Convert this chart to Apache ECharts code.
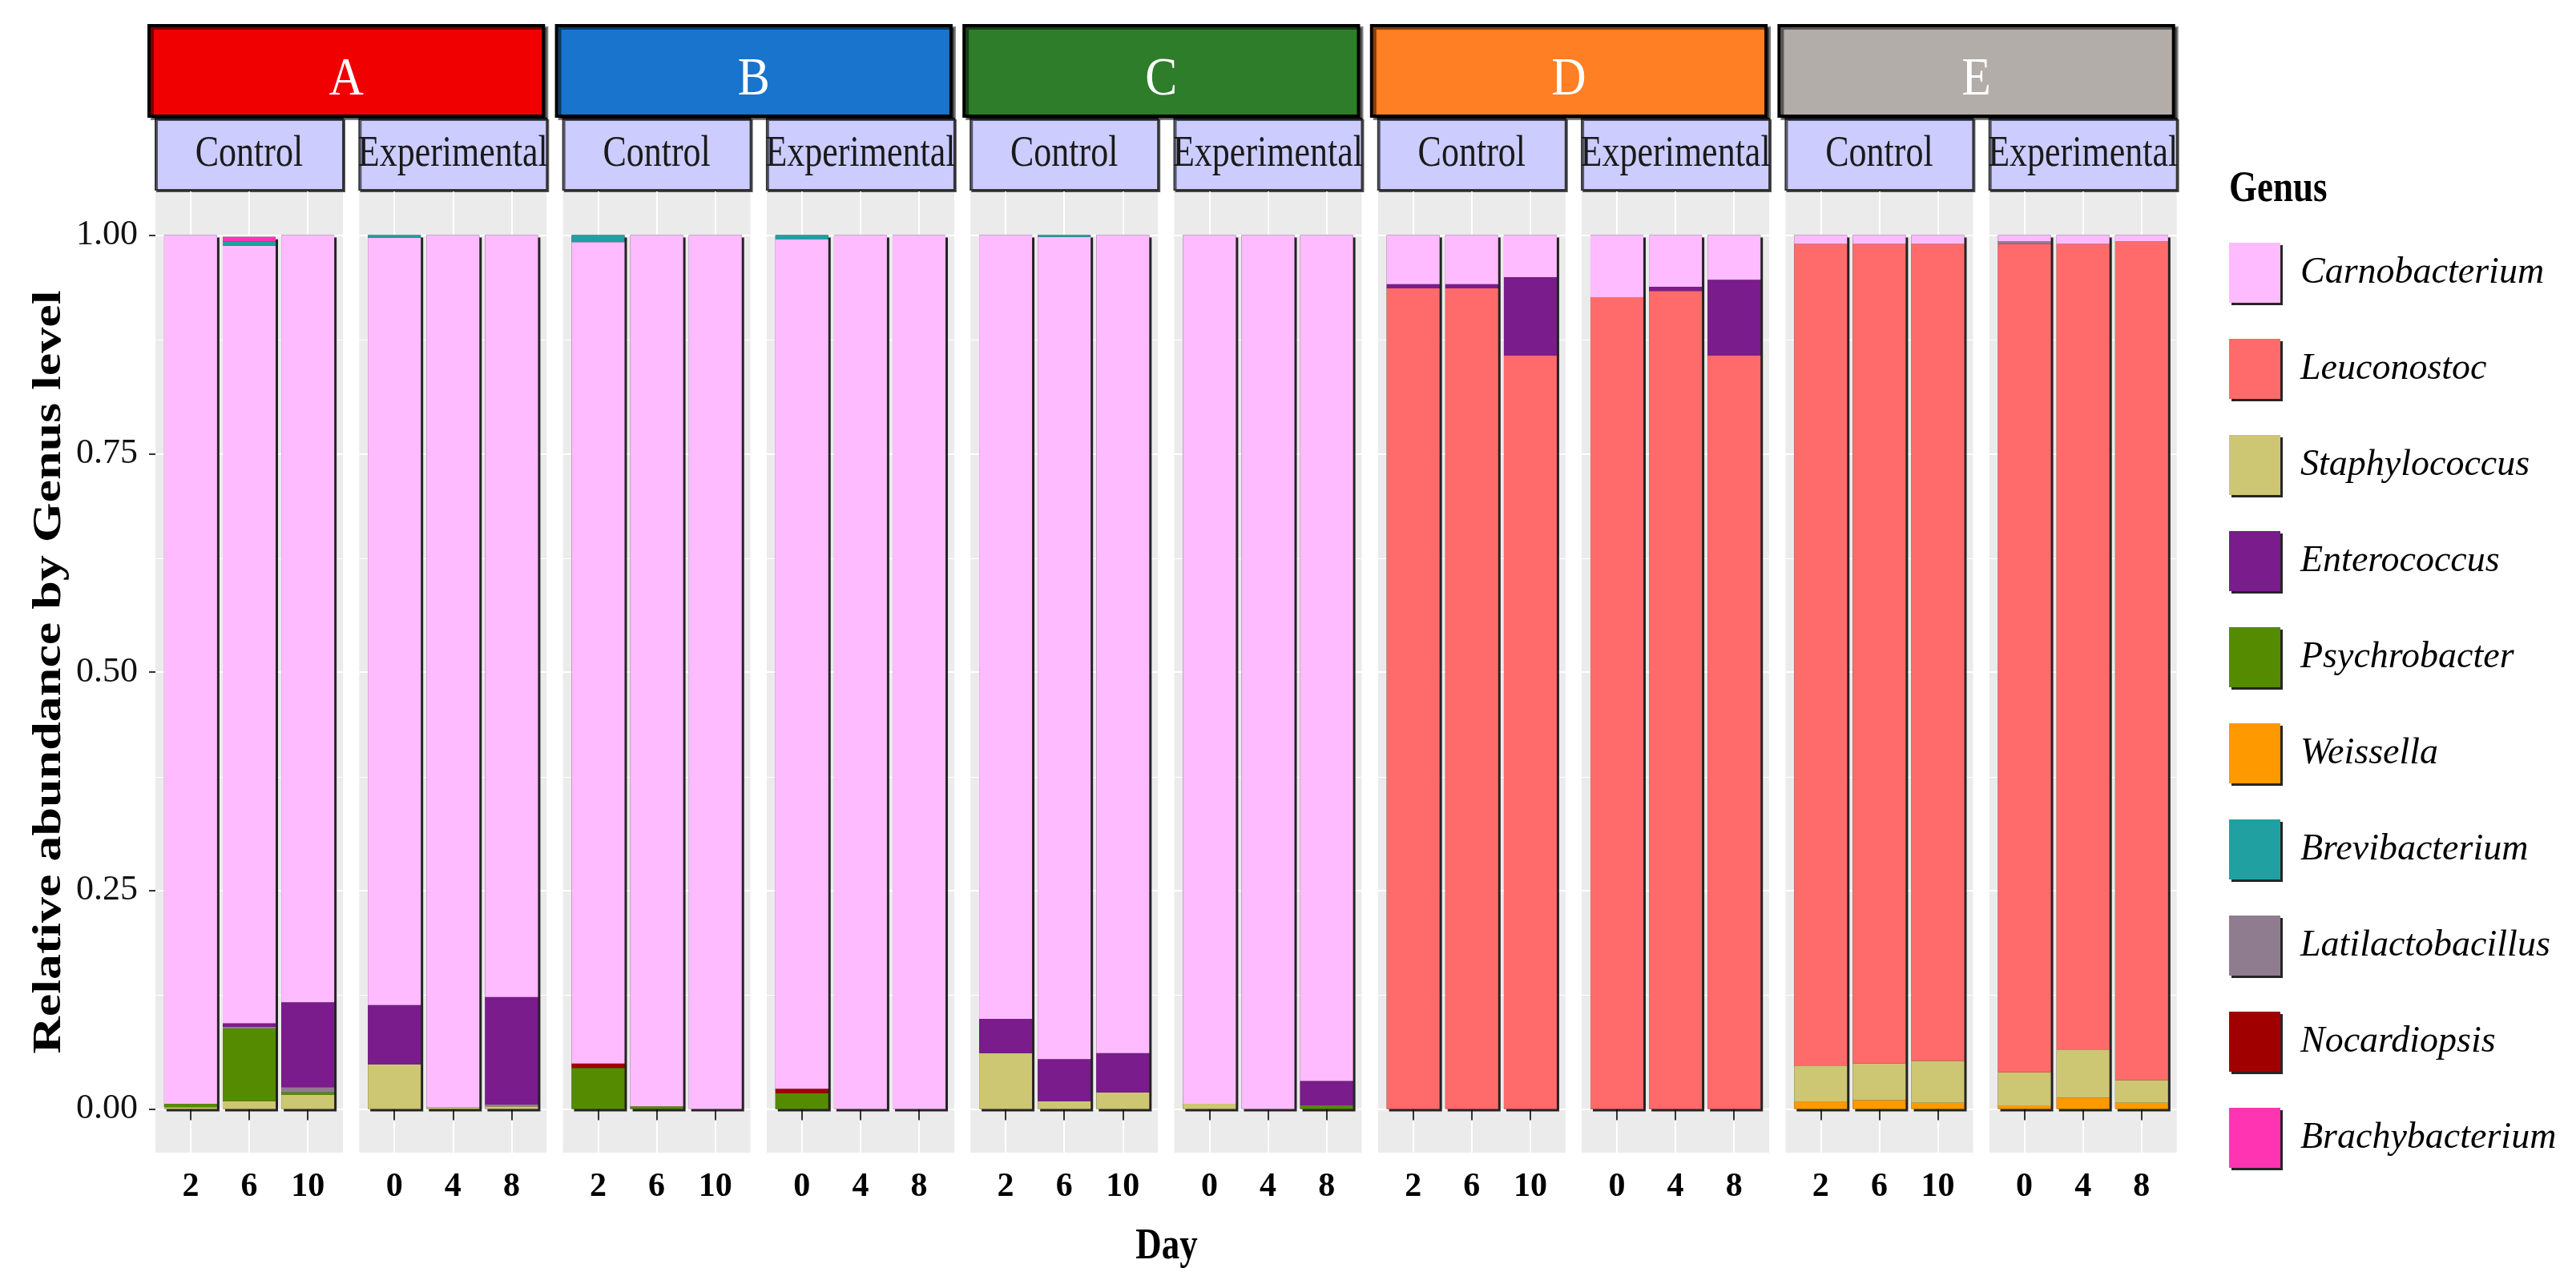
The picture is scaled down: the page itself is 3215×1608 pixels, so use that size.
<!DOCTYPE html>
<html>
<head>
<meta charset="utf-8">
<title>Relative abundance by Genus level</title>
<script src="https://cdn.jsdelivr.net/npm/echarts@6/dist/echarts.min.js"></script>
<style>
  html, body { margin: 0; padding: 0; background: #ffffff; }
  #chart { width: 3215px; height: 1608px; }
</style>
</head>
<body>
<div id="chart"></div>
<script>
// facets: each group has a Control and an Experimental panel
const groups = ['A', 'B', 'C', 'D', 'E']
const groupColors = ['#F00000', '#1874CD', '#2E7D2A', '#FF7F24', '#B3ADAA']
const conditions = ['Control', 'Experimental']
const controlDays = ['2', '6', '10']
const experimentalDays = ['0', '4', '8']
const yTicks = [0, 0.25, 0.5, 0.75, 1]
const yMinorTicks = [0.125, 0.375, 0.625, 0.875]

// legend order
const genera = ['Carnobacterium', 'Leuconostoc', 'Staphylococcus', 'Enterococcus', 'Psychrobacter',
  'Weissella', 'Brevibacterium', 'Latilactobacillus', 'Nocardiopsis', 'Brachybacterium']
const genusColors = ['#FFBBFF', '#FF6A6A', '#CDC673', '#7A1C8B', '#548B00',
  '#FF9900', '#20A0A0', '#8F7C8F', '#A00000', '#FF34B3']

// relative abundance, 3 days per panel: A-Ctrl, A-Exp, B-Ctrl, B-Exp, ... E-Exp
const carnobacterium = [
  0.994, 0.890, 0.878,  0.878, 0.998, 0.872,
  0.940, 0.997, 1.000,  0.972, 1.000, 1.000,
  0.897, 0.941, 0.936,  0.994, 1.000, 0.968,
  0.056, 0.056, 0.048,  0.071, 0.059, 0.051,
  0.010, 0.010, 0.010,  0.007, 0.010, 0.007]
const leuconostoc = [
  0, 0, 0,  0, 0, 0,
  0, 0, 0,  0, 0, 0,
  0, 0, 0,  0, 0, 0,
  0.939, 0.939, 0.862,  0.929, 0.936, 0.862,
  0.941, 0.938, 0.935,  0.948, 0.922, 0.960]
const staphylococcus = [
  0.002, 0.009, 0.016,  0.051, 0.002, 0.003,
  0, 0, 0,  0, 0, 0,
  0.064, 0.009, 0.019,  0.006, 0, 0,
  0, 0, 0,  0, 0, 0,
  0.041, 0.042, 0.048,  0.038, 0.055, 0.026]
const enterococcus = [
  0, 0.004, 0.097,  0.068, 0, 0.123,
  0, 0, 0,  0, 0, 0,
  0.039, 0.048, 0.045,  0, 0, 0.028,
  0.005, 0.005, 0.090,  0, 0.005, 0.087,
  0, 0, 0,  0, 0, 0]
const psychrobacter = [
  0.004, 0.083, 0.003,  0, 0, 0,
  0.047, 0.003, 0,  0.018, 0, 0,
  0, 0, 0,  0, 0, 0.004,
  0, 0, 0,  0, 0, 0,
  0, 0, 0,  0, 0, 0]
const weissella = [
  0, 0, 0,  0, 0, 0,
  0, 0, 0,  0, 0, 0,
  0, 0, 0,  0, 0, 0,
  0, 0, 0,  0, 0, 0,
  0.008, 0.010, 0.007,  0.004, 0.013, 0.007]
const brevibacterium = [
  0, 0.005, 0,  0.003, 0, 0,
  0.008, 0, 0,  0.005, 0, 0,
  0, 0.002, 0,  0, 0, 0,
  0, 0, 0,  0, 0, 0,
  0, 0, 0,  0, 0, 0]
const latilactobacillus = [
  0, 0.002, 0.006,  0, 0, 0.002,
  0, 0, 0,  0, 0, 0,
  0, 0, 0,  0, 0, 0,
  0, 0, 0,  0, 0, 0,
  0, 0, 0,  0.003, 0, 0]
const nocardiopsis = [
  0, 0, 0,  0, 0, 0,
  0.005, 0, 0,  0.005, 0, 0,
  0, 0, 0,  0, 0, 0,
  0, 0, 0,  0, 0, 0,
  0, 0, 0,  0, 0, 0]
const brachybacterium = [
  0, 0.005, 0,  0, 0, 0,
  0, 0, 0,  0, 0, 0,
  0, 0, 0,  0, 0, 0,
  0, 0, 0,  0, 0, 0,
  0, 0, 0,  0, 0, 0]

const abundance = {
  Carnobacterium: carnobacterium, Leuconostoc: leuconostoc, Staphylococcus: staphylococcus,
  Enterococcus: enterococcus, Psychrobacter: psychrobacter, Weissella: weissella,
  Brevibacterium: brevibacterium, Latilactobacillus: latilactobacillus,
  Nocardiopsis: nocardiopsis, Brachybacterium: brachybacterium
}
// order of the segments inside a bar, bottom to top
const stackOrder = ['Weissella', 'Staphylococcus', 'Psychrobacter', 'Nocardiopsis', 'Leuconostoc',
  'Latilactobacillus', 'Enterococcus', 'Carnobacterium', 'Brevibacterium', 'Brachybacterium']

const FONT = "'Liberation Serif', 'Times New Roman', serif"
const PANEL_W = 234
const PANEL_STEP = 254.3
const GRID_TOP = 239
const GRID_H = 1200
const BAR_W = 66
const panelLeft = p => 194 + p * PANEL_STEP

const chart = echarts.init(document.getElementById('chart'))

const grids = []
const xAxes = []
const yAxes = []
const series = []
const graphics = []

for (let p = 0; p < 10; p++) {
  const days = p % 2 === 0 ? controlDays : experimentalDays
  grids.push({
    left: panelLeft(p), top: GRID_TOP, width: PANEL_W, height: GRID_H,
    show: true, backgroundColor: '#EBEBEB', borderWidth: 0
  })
  xAxes.push({
    gridIndex: p, type: 'value', min: 0.4, max: 3.6,
    axisLine: { show: false },
    axisTick: { customValues: [1, 2, 3], length: 14, lineStyle: { color: '#333', width: 2 } },
    axisLabel: {
      customValues: [1, 2, 3], formatter: v => days[Math.round(v) - 1], margin: 22,
      fontFamily: FONT, fontWeight: 'bold', fontSize: 42, color: '#000'
    },
    splitLine: { show: true, lineStyle: { color: '#fff', width: 2 } }
  })
  yAxes.push({
    gridIndex: p, type: 'value', min: -0.05, max: 1.05,
    axisLine: { show: false },
    axisTick: { show: p === 0, customValues: yTicks, length: 8, lineStyle: { color: '#333', width: 2 } },
    axisLabel: {
      show: p === 0, customValues: yTicks, formatter: v => v.toFixed(2), margin: 22,
      fontFamily: FONT, fontSize: 44, color: '#111'
    },
    splitLine: { show: true, lineStyle: { color: '#fff', width: 2 } }
  })

  // data rows are [abundance, dayIndex]; the abundance column comes first so it is the stacked one
  // dark backing bar gives the right/bottom shadow, also carries the minor grid lines
  series.push({
    type: 'bar', name: 'outline', xAxisIndex: p, yAxisIndex: p,
    barWidth: BAR_W, barGap: '-100%', silent: true, encode: { x: 1, y: 0 },
    data: [0, 1, 2].map(d => [genera.reduce((s, g) => s + abundance[g][p * 3 + d], 0), d + 1]),
    itemStyle: { color: '#222', shadowColor: 'rgba(0,0,0,0.85)', shadowBlur: 0, shadowOffsetX: 3, shadowOffsetY: 3 },
    markLine: {
      silent: true, symbol: 'none', z: 1, label: { show: false },
      lineStyle: { color: '#fff', width: 1, type: 'solid' },
      data: yMinorTicks.map(v => ({ yAxis: v }))
    }
  })
  stackOrder.forEach(g => {
    series.push({
      type: 'bar', name: g, xAxisIndex: p, yAxisIndex: p, stack: 'panel' + p,
      barWidth: BAR_W, barGap: '-100%', encode: { x: 1, y: 0 },
      itemStyle: { color: genusColors[genera.indexOf(g)] },
      data: [0, 1, 2].map(d => [abundance[g][p * 3 + d], d + 1])
    })
  })

  // condition strip
  graphics.push({
    type: 'rect', shape: { x: panelLeft(p), y: 148, width: PANEL_W, height: 89 },
    style: { fill: '#CCCCFF', stroke: '#333', lineWidth: 2, shadowColor: 'rgba(0,0,0,0.6)', shadowOffsetX: 2, shadowOffsetY: 2 }
  })
  graphics.push({
    type: 'text', x: panelLeft(p) + PANEL_W / 2, y: 193, scaleY: 1.24,
    style: { text: conditions[p % 2], fontFamily: FONT, fontSize: 44, fill: '#1a1a1a', align: 'center', verticalAlign: 'middle' }
  })
}

// group strips
groups.forEach((g, i) => {
  const x0 = panelLeft(2 * i) - 8
  const x1 = panelLeft(2 * i + 1) + PANEL_W - 4
  graphics.push({
    type: 'rect', shape: { x: x0, y: 32, width: x1 - x0, height: 113 },
    style: { fill: groupColors[i], stroke: '#000', lineWidth: 4, shadowColor: 'rgba(0,0,0,0.5)', shadowOffsetX: 4, shadowOffsetY: 3 }
  })
  graphics.push({
    type: 'text', x: (x0 + x1) / 2, y: 100, scaleY: 1.12,
    style: { text: g, fontFamily: FONT, fontSize: 60, fill: '#fff', align: 'center', verticalAlign: 'middle' }
  })
})

// axis titles and legend title
graphics.push({
  type: 'text', x: 62, y: 839, rotation: Math.PI / 2, scaleX: 1.28,
  style: { text: 'Relative abundance by Genus level', fontFamily: FONT, fontWeight: 'bold', fontSize: 50, fill: '#000', align: 'center', verticalAlign: 'middle' }
})
graphics.push({
  type: 'text', x: 1456, y: 1557, scaleY: 1.24,
  style: { text: 'Day', fontFamily: FONT, fontWeight: 'bold', fontSize: 45, fill: '#000', align: 'center', verticalAlign: 'middle' }
})
graphics.push({
  type: 'text', x: 2782, y: 237, scaleY: 1.2,
  style: { text: 'Genus', fontFamily: FONT, fontWeight: 'bold', fontSize: 45, fill: '#000', align: 'left', verticalAlign: 'middle' }
})

chart.setOption({
  backgroundColor: '#ffffff',
  animation: false,
  grid: grids,
  xAxis: xAxes,
  yAxis: yAxes,
  legend: {
    data: genera, orient: 'vertical', left: 2782, top: 303, padding: 0,
    icon: 'rect', itemWidth: 64, itemHeight: 75, itemGap: 45, selectedMode: false,
    itemStyle: { shadowColor: 'rgba(0,0,0,0.85)', shadowBlur: 0, shadowOffsetX: 3, shadowOffsetY: 3 },
    textStyle: { fontFamily: FONT, fontStyle: 'italic', fontSize: 46, color: '#000', padding: [0, 0, 0, 20] }
  },
  graphic: graphics,
  series: series
})
</script>
</body>
</html>
